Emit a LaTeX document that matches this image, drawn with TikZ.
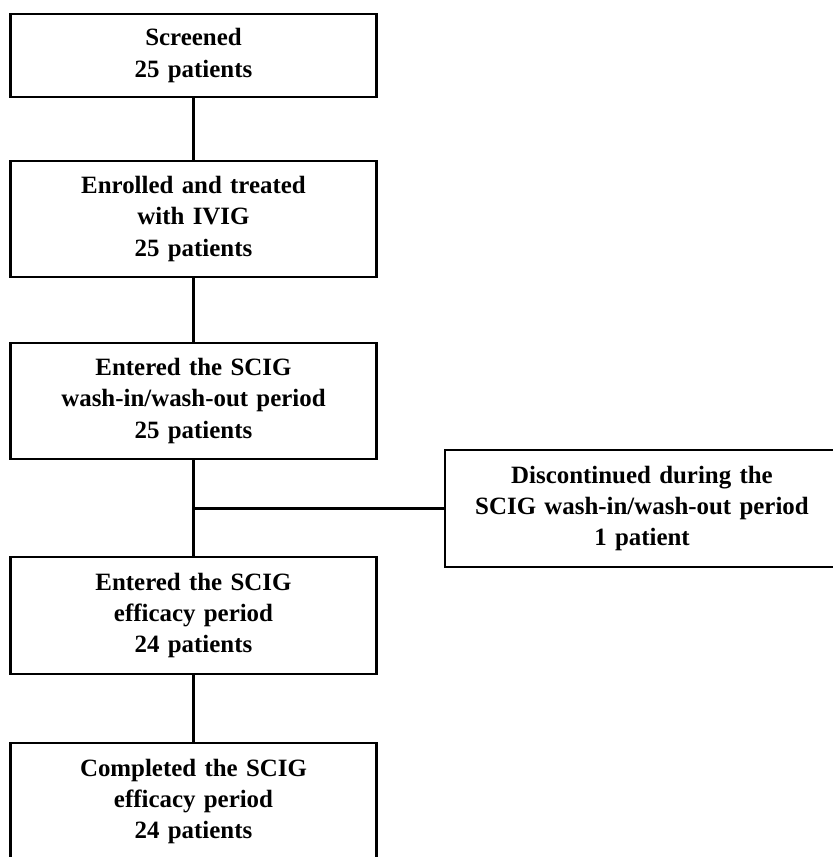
\documentclass[tikz,border=0pt]{standalone}
\usepackage{fontspec}
\setmainfont{Liberation Serif}
\usepackage[svgnames,table]{xcolor}
\usepackage{tikz}
\usetikzlibrary{shapes.geometric,arrows.meta}
\tikzset{>={Latex[width=1.5mm,length=2mm]},
  flowbox/.style={shape=rectangle,draw,line width=2pt,fill=white,minimum width=3.66in,text width=3.5in,align=center,font=\bfseries\fontsize{18}{22.6}\selectfont},
  flowline/.style={line width=2pt}}

\begin{document}
\begin{tikzpicture}

\useasboundingbox (0in,0in) rectangle (8.33in,-8.57in);

\path (1.935in,-0.555in) node (screened) [flowbox,minimum height=0.83in]{Screened\\25 patients};

\path (1.935in,-2.19in) node (enrolled) [flowbox,minimum height=1.16in]{Enrolled and treated\\with IVIG\\25 patients};

\path (1.935in,-4.01in) node (washin) [flowbox,minimum height=1.16in]{Entered the SCIG\\wash-in/wash-out period\\25 patients};

\path (6.42in,-5.085in) node (discont) [flowbox,minimum width=3.94in,text width=3.8in,minimum height=1.17in]{Discontinued during the\\SCIG wash-in/wash-out period\\1 patient};

\path (1.935in,-6.155in) node (efficacy) [flowbox,minimum height=1.17in]{Entered the SCIG\\efficacy period\\24 patients};

\path (1.935in,-8.015in) node (completed) [flowbox,minimum height=1.17in]{Completed the SCIG\\efficacy period\\24 patients};

\coordinate (branch) at (washin.south |- discont.west);

\draw [flowline] (screened) -- (enrolled);
\draw [flowline] (enrolled) -- (washin);
\draw [flowline] (washin) -- (efficacy);
\draw [flowline] (branch) -- (discont.west);
\draw [flowline] (efficacy) -- (completed);

\end{tikzpicture}
\end{document}
